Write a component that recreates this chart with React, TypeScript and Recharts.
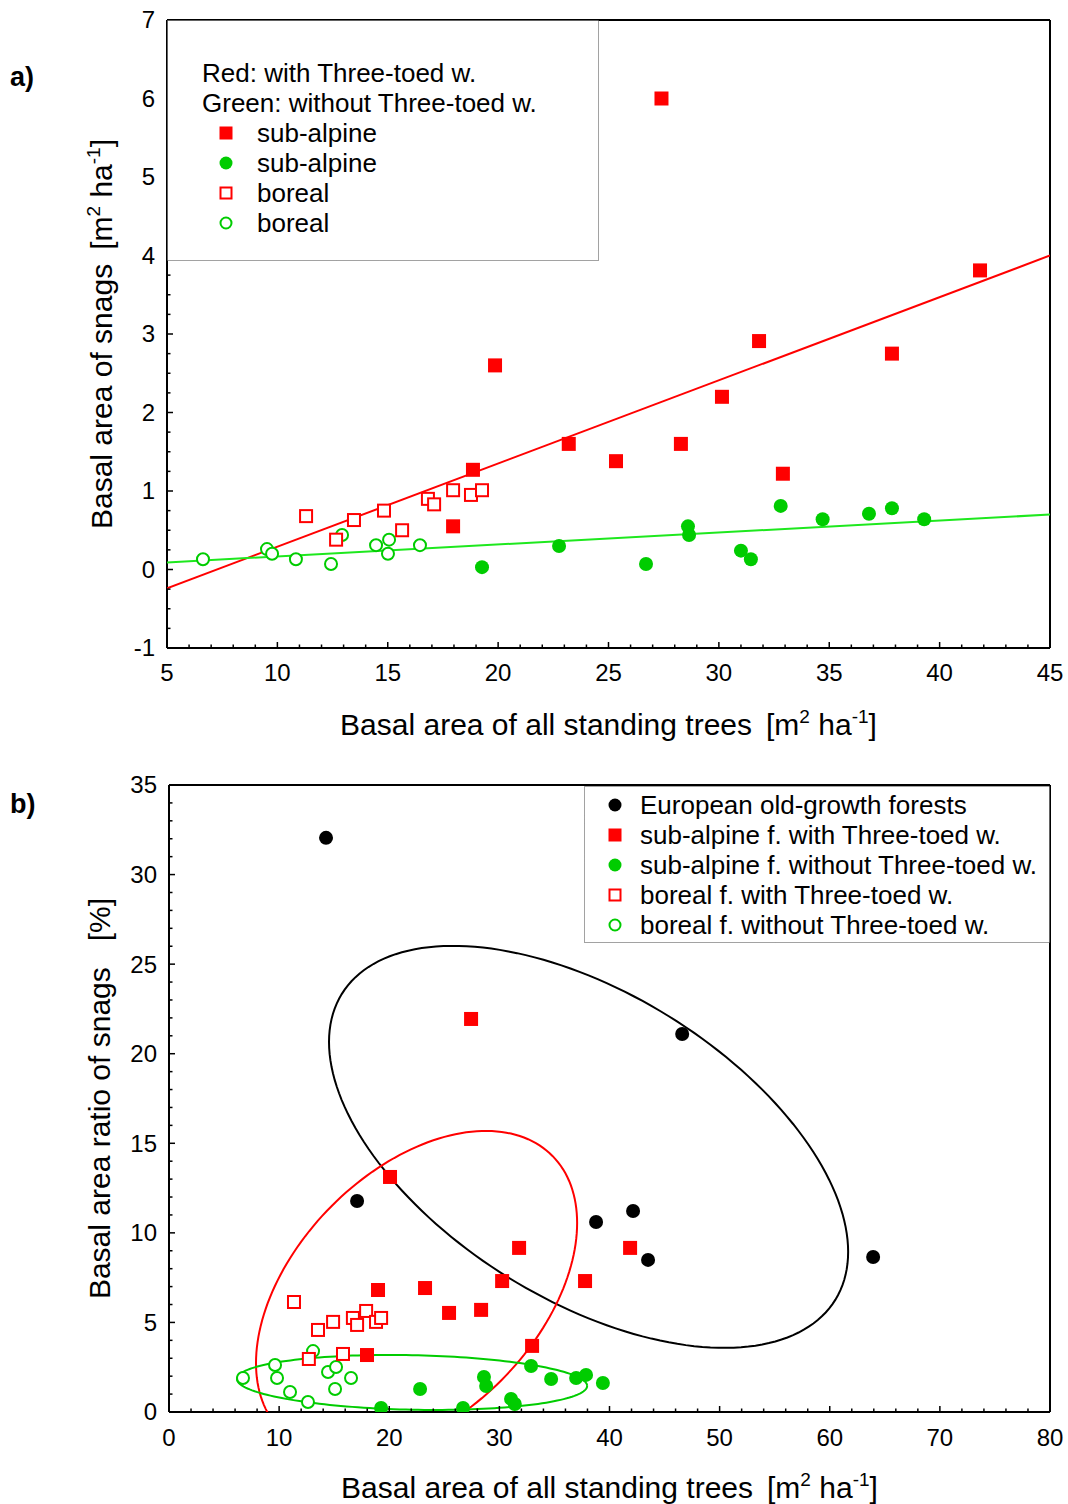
import React from 'react';
import { ScatterChart, Scatter, XAxis, YAxis } from 'recharts';

type Pt = [number, number];

// a) basal area of snags vs. basal area of all standing trees [m2 ha-1]
const subAlpineWith: Pt[] = [
  [27.4, 6.0], [19.86, 2.6], [18.86, 1.27], [17.96, 0.55], [23.2, 1.6], [25.34, 1.38],
  [28.28, 1.6], [30.14, 2.2], [31.82, 2.91], [32.9, 1.22], [37.84, 2.75], [41.83, 3.81],
];
const subAlpineWithout: Pt[] = [
  [19.27, 0.03], [22.76, 0.3], [26.7, 0.07], [28.6, 0.55], [28.65, 0.44], [31.0, 0.24],
  [31.45, 0.13], [32.8, 0.81], [34.7, 0.64], [36.8, 0.71], [37.84, 0.78], [39.3, 0.64],
];
const borealWith: Pt[] = [
  [11.3, 0.68], [12.66, 0.38], [13.47, 0.63], [14.83, 0.75], [15.65, 0.5],
  [16.82, 0.9], [17.1, 0.83], [17.96, 1.01], [18.77, 0.95], [19.27, 1.01],
];
const borealWithout: Pt[] = [
  [6.63, 0.13], [9.53, 0.26], [9.76, 0.2], [10.84, 0.13], [12.43, 0.07],
  [12.93, 0.44], [14.47, 0.31], [15.06, 0.38], [15.01, 0.2], [16.46, 0.31],
];
// linear fits (with / without Three-toed woodpecker)
const fitWith = { intercept: -0.77, slope: 0.106 };
const fitWithout = { intercept: 0.014, slope: 0.01525 };

// b) basal area ratio of snags [%]
const oldGrowth: Pt[] = [
  [14.26, 32.05], [17.08, 11.78], [38.78, 10.61], [42.14, 11.22], [43.5, 8.49], [46.6, 21.1], [63.94, 8.65],
];
const ratioSubAlpineWith: Pt[] = [
  [27.43, 21.94], [20.07, 13.12], [18.98, 6.81], [17.98, 3.18], [23.25, 6.92], [25.43, 5.53],
  [28.34, 5.7], [30.25, 7.31], [31.79, 9.16], [32.97, 3.69], [37.78, 7.31], [41.87, 9.16],
];
const ratioSubAlpineWithout: Pt[] = [
  [19.26, 0.22], [22.8, 1.28], [26.7, 0.22], [28.6, 1.95], [28.8, 1.45], [31.06, 0.73],
  [31.4, 0.45], [32.88, 2.57], [34.7, 1.84], [36.97, 1.9], [37.87, 2.07], [39.4, 1.62],
];
const ratioBorealWith: Pt[] = [
  [11.35, 6.14], [14.9, 5.03], [13.53, 4.58], [16.7, 5.25], [17.08, 4.86],
  [17.9, 5.64], [18.8, 5.03], [19.26, 5.25], [15.8, 3.24], [12.7, 2.96],
];
const ratioBorealWithout: Pt[] = [
  [6.72, 1.9], [9.63, 2.62], [9.81, 1.9], [10.99, 1.12], [12.62, 0.56],
  [13.08, 3.4], [14.44, 2.23], [15.17, 2.51], [15.08, 1.28], [16.53, 1.9],
];
// confidence ellipses: centre, half extents, correlation
const ellipseOldGrowth = { cx: 38.1, cy: 14.8, rx: 23.57, ry: 11.22, rho: -0.522 };
const ellipseWith = { cx: 22.48, cy: 6.64, rx: 14.58, ry: 9.05, rho: 0.432 };
const ellipseWithout = { cx: 22.07, cy: 1.65, rx: 15.9, ry: 1.535, rho: -0.127 };

// axis tick labels
const aXLabels = [5, 10, 15, 20, 25, 30, 35, 40, 45];
const aYLabels = [-1, 0, 1, 2, 3, 4, 5, 6, 7];
const bXLabels = [0, 10, 20, 30, 40, 50, 60, 70, 80];
const bYLabels = [0, 5, 10, 15, 20, 25, 30, 35];

const RED = '#ff0000';
const GREEN = '#00cc00';
const LINE_GREEN = '#1ee81e';
const FONT = '"Liberation Sans", Arial, sans-serif';

const range = (from: number, to: number, step: number) => {
  const out: number[] = [];
  for (let v = from; v <= to + 1e-9; v += step) out.push(Math.round(v * 1000) / 1000);
  return out;
};

const toXY = (pts: Pt[]) => pts.map(([x, y]) => ({ x, y }));

const fitLine = (f: { intercept: number; slope: number }, x0: number, x1: number) =>
  [x0, x1].map((x) => ({ x, y: f.intercept + f.slope * x }));

const ellipsePoints = (e: { cx: number; cy: number; rx: number; ry: number; rho: number }) => {
  const s = Math.sqrt(1 - e.rho * e.rho);
  return range(0, 180, 1).map((i) => {
    const t = (i / 180) * Math.PI * 2;
    return { x: e.cx + e.rx * Math.cos(t), y: e.cy + e.ry * (e.rho * Math.cos(t) + s * Math.sin(t)) };
  });
};

type Mark = 'square' | 'openSquare' | 'circle' | 'openCircle';

const drawMark = (kind: Mark, color: string, cx: number, cy: number, size: number) => {
  const h = size / 2;
  switch (kind) {
    case 'square':
      return <rect x={cx - h} y={cy - h} width={size} height={size} fill={color} />;
    case 'openSquare':
      return <rect x={cx - h + 1} y={cy - h + 1} width={size - 2} height={size - 2} fill="#fff" stroke={color} strokeWidth={2} />;
    case 'circle':
      return <circle cx={cx} cy={cy} r={h} fill={color} />;
    default:
      return <circle cx={cx} cy={cy} r={h - 1} fill="#fff" stroke={color} strokeWidth={2} />;
  }
};

const markShape = (kind: Mark, color: string, size: number) => (p: any) => drawMark(kind, color, p.cx, p.cy, size);
const noShape = () => <g />;

type Side = 'left' | 'right' | 'top' | 'bottom';

// inward ticks, longer on labelled values; text only on left/bottom
const tickRenderer = (side: Side, labels: number[], gap: number) => (props: any) => {
  const { x, y, payload } = props;
  const v: number = payload.value;
  const major = labels.some((l) => Math.abs(l - v) < 1e-6);
  const len = major ? 6 : 3.5;
  const st = { stroke: '#000', strokeWidth: 1.5 };
  const txt = { fontFamily: FONT, fontSize: 24, fill: '#000' };
  if (side === 'bottom') {
    return (
      <g>
        <line {...st} x1={x} x2={x} y1={y} y2={y - len} />
        {major && <text {...txt} x={x} y={y + gap} dy="0.35em" textAnchor="middle">{v}</text>}
      </g>
    );
  }
  if (side === 'left') {
    return (
      <g>
        <line {...st} x1={x} x2={x + len} y1={y} y2={y} />
        {major && <text {...txt} x={x - gap} y={y} dy="0.35em" textAnchor="end">{v}</text>}
      </g>
    );
  }
  if (side === 'top') return <line {...st} x1={x} x2={x} y1={y} y2={y + len} />;
  return <line {...st} x1={x} x2={x - len} y1={y} y2={y} />;
};

const titleStyle = { fontFamily: FONT, fontSize: 30, fill: '#000' };

const Unit = () => (
  <>
    <tspan dx={14}>[m</tspan>
    <tspan dy={-12} fontSize={19}>2</tspan>
    <tspan dy={12}> ha</tspan>
    <tspan dy={-12} fontSize={19}>-1</tspan>
    <tspan dy={12}>]</tspan>
  </>
);

const xTitle = (below: number) => (props: any) => {
  const { x, y, width } = props.viewBox;
  return (
    <text {...titleStyle} x={x + width / 2} y={y + below} textAnchor="middle">
      Basal area of all standing trees<Unit />
    </text>
  );
};

const yTitle = (baseX: number, children: React.ReactNode) => (props: any) => {
  const { y, height } = props.viewBox;
  const cy = y + height / 2;
  return (
    <text {...titleStyle} x={baseX} y={cy} textAnchor="middle" transform={`rotate(-90, ${baseX}, ${cy})`}>
      {children}
    </text>
  );
};

const frameLine = { stroke: '#000', strokeWidth: 2 };

const PanelA = () => (
  <ScatterChart width={1068} height={760} margin={{ top: 19, right: 17, bottom: 0, left: 0 }}>
    <XAxis
      type="number" dataKey="x" domain={[5, 45]} ticks={range(5, 45, 1)} interval={0}
      allowDataOverflow height={112} tickSize={0} tickMargin={0} axisLine={frameLine}
      tick={tickRenderer('bottom', aXLabels, 25)} label={xTitle(87)}
    />
    <XAxis
      xAxisId="top" orientation="top" type="number" domain={[5, 45]} ticks={range(5, 45, 1)} interval={0}
      height={1} tickSize={0} tickMargin={0} axisLine={frameLine} tick={tickRenderer('top', aXLabels, 0)}
    />
    <YAxis
      type="number" dataKey="y" domain={[-1, 7]} ticks={range(-1, 7, 0.25)} interval={0}
      allowDataOverflow width={167} tickSize={0} tickMargin={0} axisLine={frameLine}
      tick={tickRenderer('left', aYLabels, 12)}
      label={yTitle(112, <>Basal area of snags<Unit /></>)}
    />
    <YAxis
      yAxisId="right" orientation="right" type="number" domain={[-1, 7]} ticks={range(-1, 7, 0.25)} interval={0}
      width={1} tickSize={0} tickMargin={0} axisLine={frameLine} tick={tickRenderer('right', aYLabels, 0)}
    />
    <Scatter data={fitLine(fitWith, 5, 45)} line={{ stroke: RED, strokeWidth: 2 }} shape={noShape} isAnimationActive={false} />
    <Scatter data={fitLine(fitWithout, 5, 45)} line={{ stroke: LINE_GREEN, strokeWidth: 2 }} shape={noShape} isAnimationActive={false} />
    <Scatter data={toXY(borealWithout)} shape={markShape('openCircle', GREEN, 14)} isAnimationActive={false} />
    <Scatter data={toXY(borealWith)} shape={markShape('openSquare', RED, 14)} isAnimationActive={false} />
    <Scatter data={toXY(subAlpineWithout)} shape={markShape('circle', GREEN, 14)} isAnimationActive={false} />
    <Scatter data={toXY(subAlpineWith)} shape={markShape('square', RED, 14)} isAnimationActive={false} />
  </ScatterChart>
);

const PanelB = () => (
  <ScatterChart width={1068} height={744} margin={{ top: 24, right: 17, bottom: 0, left: 0 }}>
    <XAxis
      type="number" dataKey="x" domain={[0, 80]} ticks={range(0, 80, 2)} interval={0}
      allowDataOverflow height={92} tickSize={0} tickMargin={0} axisLine={frameLine}
      tick={tickRenderer('bottom', bXLabels, 26)} label={xTitle(86)}
    />
    <XAxis
      xAxisId="top" orientation="top" type="number" domain={[0, 80]} ticks={range(0, 80, 2)} interval={0}
      height={1} tickSize={0} tickMargin={0} axisLine={frameLine} tick={tickRenderer('top', bXLabels, 0)}
    />
    <YAxis
      type="number" dataKey="y" domain={[0, 35]} ticks={range(0, 35, 1)} interval={0}
      allowDataOverflow width={169} tickSize={0} tickMargin={0} axisLine={frameLine}
      tick={tickRenderer('left', bYLabels, 12)}
      label={yTitle(110, <>Basal area ratio of snags<tspan dx={26}>[%]</tspan></>)}
    />
    <YAxis
      yAxisId="right" orientation="right" type="number" domain={[0, 35]} ticks={range(0, 35, 1)} interval={0}
      width={1} tickSize={0} tickMargin={0} axisLine={frameLine} tick={tickRenderer('right', bYLabels, 0)}
    />
    <Scatter data={ellipsePoints(ellipseOldGrowth)} line={{ stroke: '#000', strokeWidth: 2 }} shape={noShape} isAnimationActive={false} />
    <Scatter data={ellipsePoints(ellipseWith)} line={{ stroke: RED, strokeWidth: 2 }} shape={noShape} isAnimationActive={false} />
    <Scatter data={ellipsePoints(ellipseWithout)} line={{ stroke: GREEN, strokeWidth: 2 }} shape={noShape} isAnimationActive={false} />
    <Scatter data={toXY(ratioBorealWithout)} shape={markShape('openCircle', GREEN, 14)} isAnimationActive={false} />
    <Scatter data={toXY(ratioBorealWith)} shape={markShape('openSquare', RED, 14)} isAnimationActive={false} />
    <Scatter data={toXY(ratioSubAlpineWithout)} shape={markShape('circle', GREEN, 14)} isAnimationActive={false} />
    <Scatter data={toXY(ratioSubAlpineWith)} shape={markShape('square', RED, 14)} isAnimationActive={false} />
    <Scatter data={toXY(oldGrowth)} shape={markShape('circle', '#000', 14)} isAnimationActive={false} />
  </ScatterChart>
);

type LegendRow = { kind?: Mark; color?: string; text: string };

const legendA: LegendRow[] = [
  { text: 'Red: with Three-toed w.' },
  { text: 'Green: without Three-toed w.' },
  { kind: 'square', color: RED, text: 'sub-alpine' },
  { kind: 'circle', color: GREEN, text: 'sub-alpine' },
  { kind: 'openSquare', color: RED, text: 'boreal' },
  { kind: 'openCircle', color: GREEN, text: 'boreal' },
];

const legendB: LegendRow[] = [
  { kind: 'circle', color: '#000', text: 'European old-growth forests' },
  { kind: 'square', color: RED, text: 'sub-alpine f. with Three-toed w.' },
  { kind: 'circle', color: GREEN, text: 'sub-alpine f. without Three-toed w.' },
  { kind: 'openSquare', color: RED, text: 'boreal f. with Three-toed w.' },
  { kind: 'openCircle', color: GREEN, text: 'boreal f. without Three-toed w.' },
];

const LegendBox = ({ rows, left, top, width, height, firstY, step, markX, textX, plainX }: {
  rows: LegendRow[]; left: number; top: number; width: number; height: number;
  firstY: number; step: number; markX: number; textX: number; plainX: number;
}) => (
  <svg style={{ position: 'absolute', left, top }} width={width} height={height}>
    <rect x={0.5} y={0.5} width={width - 1} height={height - 1} fill="#fff" stroke="#444" strokeWidth={1} strokeDasharray="1 1" />
    {rows.map((r, i) => {
      const cy = firstY + i * step;
      return (
        <g key={i}>
          {r.kind && drawMark(r.kind, r.color || '#000', markX, cy, 13)}
          <text x={r.kind ? textX : plainX} y={cy} dy="0.35em" fontFamily={FONT} fontSize={26} fill="#000">
            {r.text}
          </text>
        </g>
      );
    })}
  </svg>
);

const panelTag = { position: 'absolute' as const, left: 10, fontFamily: FONT, fontSize: 27, fontWeight: 'bold' as const, lineHeight: '30px' };

export default function App() {
  return (
    <div style={{ position: 'absolute', left: 0, top: 0, width: 1068, height: 1504, background: '#fff', overflow: 'hidden' }}>
      <div style={{ position: 'absolute', left: 0, top: 0 }}>
        <PanelA />
      </div>
      <div style={{ position: 'absolute', left: 0, top: 760 }}>
        <PanelB />
      </div>
      <LegendBox rows={legendA} left={167} top={20} width={432} height={241} firstY={53} step={30} markX={59} textX={90} plainX={35} />
      <LegendBox rows={legendB} left={584} top={786} width={466} height={157} firstY={19} step={30} markX={31} textX={56} plainX={56} />
      <div style={{ ...panelTag, top: 62 }}>a)</div>
      <div style={{ ...panelTag, top: 789 }}>b)</div>
    </div>
  );
}
